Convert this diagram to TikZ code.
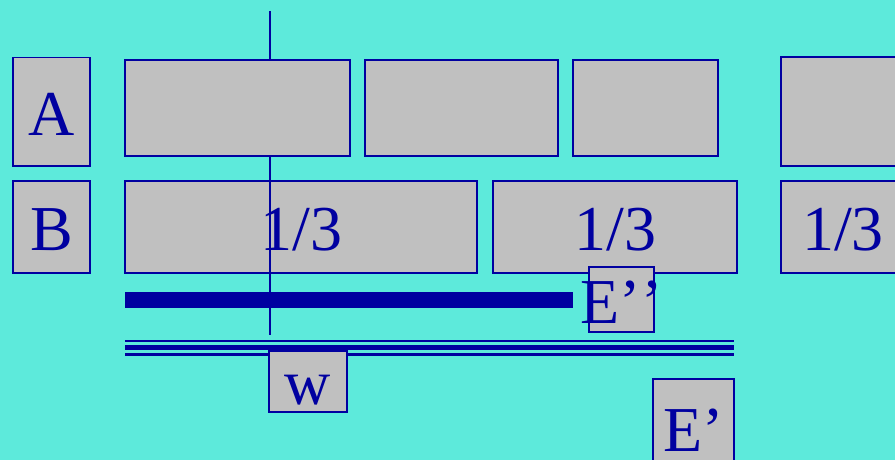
\documentclass[tikz,border=0pt]{standalone}
\usepackage{fontspec}
\setmainfont{Liberation Serif}
\definecolor{bgc}{RGB}{93,234,219}
\definecolor{dblue}{RGB}{0,0,160}
\definecolor{lgray}{RGB}{192,192,192}
\tikzset{
  bx/.style={draw=dblue, fill=lgray, line width=1.8pt, inner sep=0pt, anchor=base,
    font=\fontsize{64}{64}\selectfont, text=dblue},
  thinline/.style={draw=dblue, line width=1.8pt},
}
\begin{document}
\begin{tikzpicture}[x=1pt,y=-1pt]
\useasboundingbox (0,0) rectangle (895,460);
\fill[bgc] (0,0) rectangle (895,460);
% B row
\node[bx, minimum width=77.3pt, text height=69.5pt, text depth=22.8pt] (B) at (51.65,250.5) {B};
\node[bx, minimum width=352.3pt, text height=69.5pt, text depth=22.8pt] (b1) at (301.15,250.5) {1/3};
\node[bx, minimum width=243.7pt, text height=69.5pt, text depth=22.8pt] (b2) at (615.15,250.5) {1/3};
\node[bx, minimum width=124pt, text height=69.5pt, text depth=22.8pt] (b3) at (843,250.5) {1/3};
% vertical line
\coordinate (vtop) at (270,11);
\coordinate (vbot) at (270,335);
\draw[thinline] (vtop) -- (vbot);
% A row
\node[bx, minimum width=77.3pt, text height=78.2pt, text depth=30pt] (A) at (51.65,135.7) {A};
\node[bx, minimum width=224.7pt, text height=96pt, text depth=0pt] (t1) at (237.35,155.7) {};
\node[bx, minimum width=192.7pt, text height=96pt, text depth=0pt] (t2) at (461.35,155.7) {};
\node[bx, minimum width=144.7pt, text height=96pt, text depth=0pt] (t3) at (645.35,155.7) {};
\node[bx, minimum width=124pt, text height=108.7pt, text depth=0pt] (t4) at (843,166) {};
% thick bar
\coordinate (bar1) at (125,299.7);
\coordinate (bar2) at (573,299.7);
\draw[dblue, line width=16pt] (bar1) -- (bar2);
% triple line
\coordinate (l1a) at (125,341.15);
\coordinate (l1b) at (733.7,341.15);
\coordinate (l2a) at (125,347.65);
\coordinate (l2b) at (733.7,347.65);
\coordinate (l3a) at (125,354.35);
\coordinate (l3b) at (733.7,354.35);
\draw[dblue, line width=2.3pt] (l1a) -- (l1b);
\draw[dblue, line width=5.3pt] (l2a) -- (l2b);
\draw[dblue, line width=2.7pt] (l3a) -- (l3b);
% labels
\node[bx, minimum width=64.7pt, text height=56.6pt, text depth=8.7pt] (Epp) at (621.65,323.3) {\makebox[60pt][c]{E’\kern0pt’}};
\node[bx, minimum width=77.4pt, text height=53.3pt, text depth=8.3pt] (w) at (308,404) {w};
\node[bx, minimum width=80.7pt, text height=71.7pt, text depth=20pt] (Ep) at (693.65,451) {E’};
\end{tikzpicture}
\end{document}
